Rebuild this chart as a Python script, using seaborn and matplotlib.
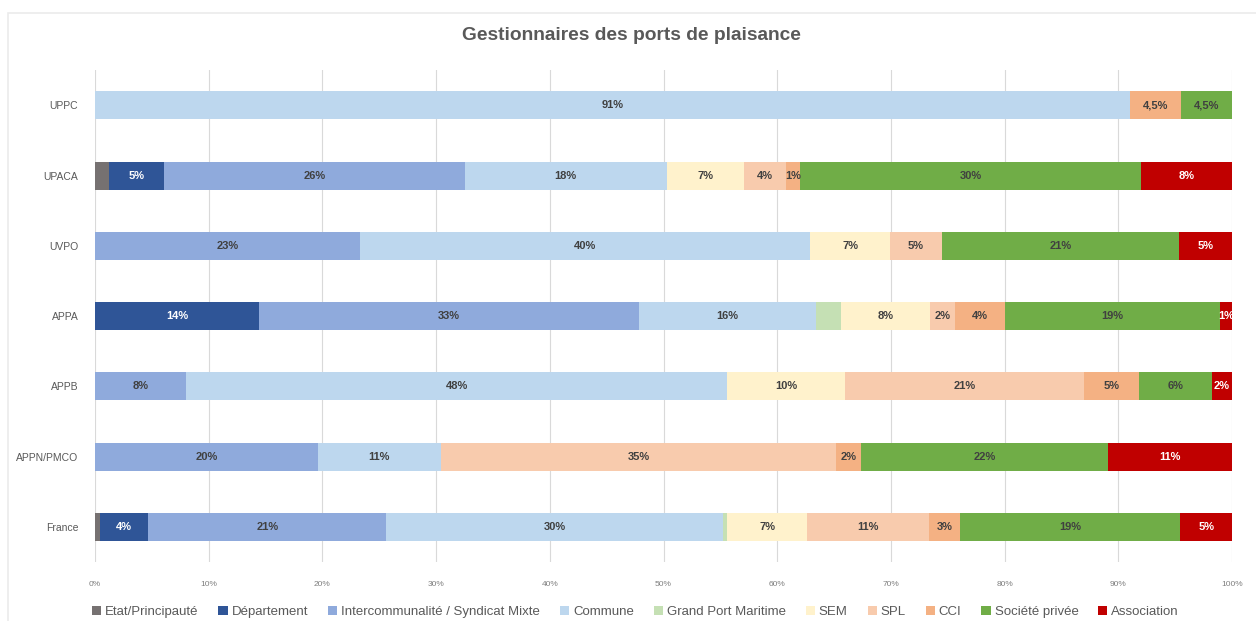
import numpy as np
import pandas as pd
import seaborn as sns
import matplotlib.pyplot as plt
from matplotlib.patches import Patch, Rectangle

# Data (percent of ports per manager type)
categories = ["UPPC", "UPACA", "UVPO", "APPA", "APPB", "APPN/PMCO", "France"]
series = ["Etat/Principauté", "Département", "Intercommunalité / Syndicat Mixte",
          "Commune", "Grand Port Maritime", "SEM", "SPL", "CCI",
          "Société privée", "Association"]

etat = [0, 1.2, 0, 0, 0, 0, 0.4]
departement = [0, 4.9, 0, 14.4, 0, 0, 4.3]
intercommunalite = [0, 26.4, 23.3, 33.4, 8.0, 19.6, 20.9]
commune = [91.0, 17.8, 39.6, 15.6, 47.6, 10.8, 29.6]
grand_port = [0, 0, 0, 2.2, 0, 0, 0.4]
sem = [0, 6.8, 7.0, 7.8, 10.4, 0, 7.0]
spl = [0, 3.7, 4.6, 2.2, 21.0, 34.8, 10.7]
cci = [4.5, 1.2, 0, 4.4, 4.8, 2.2, 2.8]
societe_privee = [4.5, 30.0, 20.8, 18.9, 6.4, 21.7, 19.3]
association = [0, 8.0, 4.7, 1.1, 1.8, 10.9, 4.7]

# series that carry no value label in the original
unlabelled = ["Etat/Principauté", "Grand Port Maritime"]
# labels shown with a decimal
label_text = {("UPPC", "CCI"): "4,5%", ("UPPC", "Société privée"): "4,5%"}

colors = ["#767171", "#2F5597", "#8FAADC", "#BDD7EE", "#C5E0B4",
          "#FFF2CC", "#F8CBAD", "#F4B183", "#70AD47", "#C00000"]
white_text = ["Département", "Association"]

df = pd.DataFrame(
    [etat, departement, intercommunalite, commune, grand_port, sem, spl, cci,
     societe_privee, association],
    index=series, columns=categories).T
cum = df.cumsum(axis=1)

plt.rcParams["font.family"] = ["Liberation Sans", "DejaVu Sans"]
fig = plt.figure(figsize=(12.56, 6.21), dpi=100)
ax = fig.add_axes([0.0756, 0.095, 0.9054, 0.792])

# stacked bars: draw cumulative totals from the last series back to the first
for i in reversed(range(len(series))):
    sns.barplot(x=cum.iloc[:, i].values, y=categories, color=colors[i],
                orient="h", width=0.4, saturation=1, ax=ax, linewidth=0)

# value labels
for r, cat in enumerate(categories):
    for j, s in enumerate(series):
        v = df.loc[cat, s]
        if v <= 0 or s in unlabelled:
            continue
        txt = label_text.get((cat, s), f"{round(v):d}%")
        center = cum.loc[cat, s] - v / 2
        ax.text(center, r, txt, ha="center", va="center", fontsize=8,
                fontweight="bold",
                color="white" if s in white_text else "#404040")

ax.set_xlim(0, 100)
ax.set_ylim(6.5, -0.5)
ax.set_xticks(np.arange(0, 101, 10))
ax.set_xticklabels([f"{t}%" for t in range(0, 101, 10)], fontsize=6, color="#7F7F7F")
ax.tick_params(axis="y", labelsize=7.5, labelcolor="#595959", length=0, pad=12)
ax.tick_params(axis="x", length=0, pad=14)
ax.set_xlabel("")
ax.set_ylabel("")
ax.grid(axis="x", color="#D9D9D9", linewidth=0.8)
ax.set_axisbelow(True)
for sp in ax.spines.values():
    sp.set_visible(False)

fig.text(0.503, 0.943, "Gestionnaires des ports de plaisance", ha="center",
         va="center", fontsize=13.8, fontweight="bold", color="#595959")

handles = [Patch(facecolor=c, edgecolor="none") for c in colors]
fig.legend(handles, series, loc="center", bbox_to_anchor=(0.506, 0.015),
           ncol=len(series), frameon=False, fontsize=9.5, labelcolor="#595959",
           handlelength=0.7, handleheight=0.7, handletextpad=0.3,
           columnspacing=1.5)

# faint outer frame of the chart area
fig.patches.append(Rectangle((0.006, -0.1), 1.2, 1.079, transform=fig.transFigure,
                             fill=False, edgecolor="#EBEBEB", linewidth=1.2))

fig.savefig("out.png", dpi=100)
